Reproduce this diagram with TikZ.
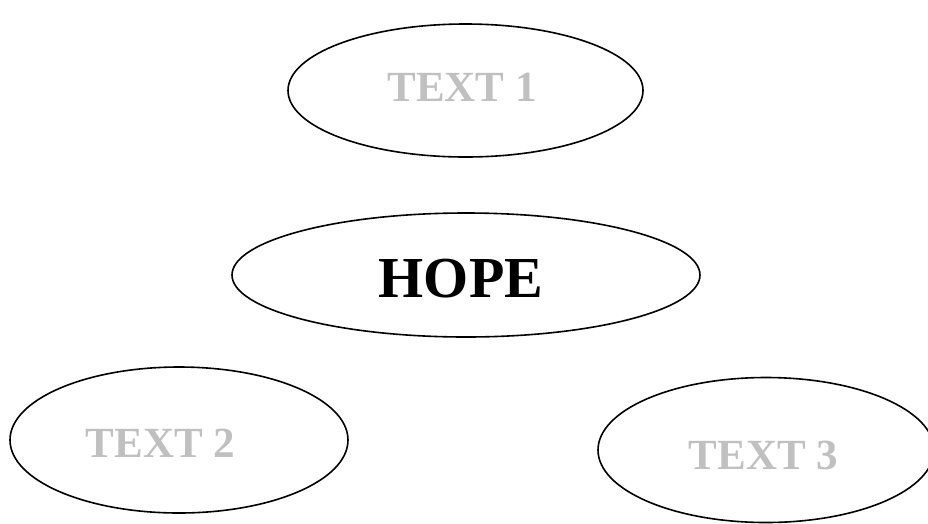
\documentclass[tikz,border=0pt]{standalone}
\usepackage{fontspec}
\setmainfont{Liberation Serif}
\usetikzlibrary{shapes.geometric}
\definecolor{softgray}{HTML}{C0C0C0}
\tikzset{
  oval/.style={draw=black, line width=1.6pt, ellipse, inner sep=0pt, fill=none},
  graytext/.style={text=softgray, font=\fontsize{43}{48}\selectfont\bfseries, inner sep=0pt},
  maintext/.style={text=black, font=\fontsize{58}{64}\selectfont\bfseries, inner sep=0pt}
}
\begin{document}
\begin{tikzpicture}[x=1pt, y=-1pt]
\useasboundingbox (0,0) rectangle (928,523);
\node[oval, minimum width=355pt, minimum height=133pt] (e1) at (465.5,90.5) {};
\node[oval, minimum width=468pt, minimum height=124pt] (eh) at (466,275) {};
\node[oval, minimum width=338pt, minimum height=146pt] (e2) at (179,440) {};
\node[oval, minimum width=336pt, minimum height=145pt] (e3) at (766,450) {};
\node[graytext] (t1) at (462,87) {TEXT 1};
\node[maintext] (th) at (461,279) {HOPE};
\node[graytext] (t2) at (160.5,443) {TEXT 2};
\node[graytext] (t3) at (763.5,455) {TEXT 3};
\end{tikzpicture}
\end{document}
